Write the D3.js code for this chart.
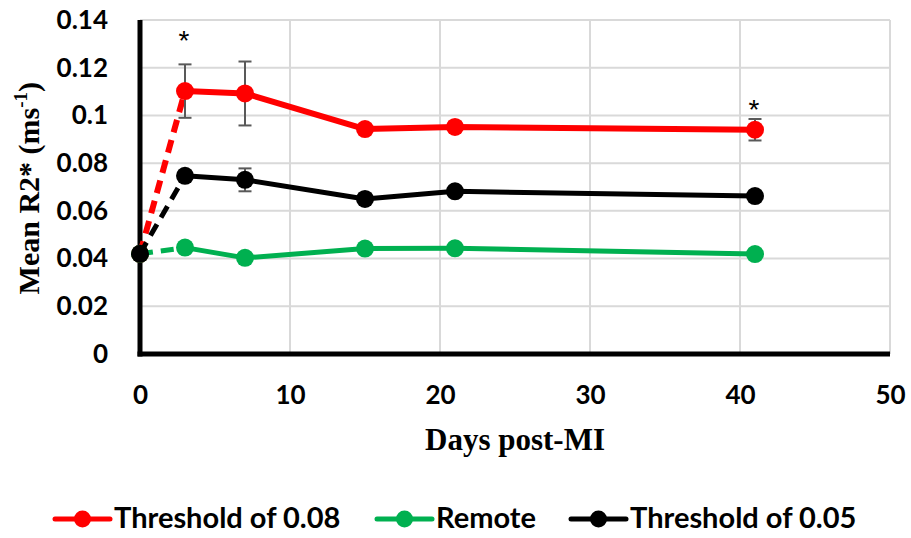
<!DOCTYPE html>
<html>
<head>
<meta charset="utf-8">
<script src="https://cdn.jsdelivr.net/npm/d3@7/dist/d3.min.js"></script>
<style>
  html, body { margin: 0; padding: 0; background: #fff; }
  svg { display: block; }
</style>
</head>
<body>
<svg id="chart" width="911" height="538"></svg>
<script>
// Days after myocardial infarction at which R2* was measured
const days = [0, 3, 7, 15, 21, 41];

// Mean R2* (ms^-1) per group
const threshold008 = [0.042, 0.1102, 0.1092, 0.0943, 0.0952, 0.0940];
const remote       = [0.042, 0.0446, 0.0403, 0.0442, 0.0443, 0.0419];
const threshold005 = [0.042, 0.0747, 0.0730, 0.0650, 0.0682, 0.0662];

// Standard error (ms^-1); null where no bar is drawn
const threshold008Err = [null, 0.0112, 0.0134, null, 0.0020, 0.0045];
const remoteErr       = [null, null, null, null, null, null];
const threshold005Err = [null, null, 0.0048, null, null, null];

// Days flagged as significant, and the level at which each asterisk sits
const starDays = [3, 41];
const starLevels = [0.1338, 0.1048];

const xTicks = [0, 10, 20, 30, 40, 50];
const yTicks = [0, 0.02, 0.04, 0.06, 0.08, 0.1, 0.12, 0.14];

const seriesNames = ["Threshold of 0.08", "Remote", "Threshold of 0.05"];
const seriesColors = ["#ff0000", "#00b050", "#000000"];

const series = [
  { name: seriesNames[0], color: seriesColors[0], values: threshold008, err: threshold008Err, width: 6 },
  { name: seriesNames[1], color: seriesColors[1], values: remote, err: remoteErr, width: 5 },
  { name: seriesNames[2], color: seriesColors[2], values: threshold005, err: threshold005Err, width: 5 }
];

const svg = d3.select("#chart");

const x = d3.scaleLinear().domain([0, 50]).range([140, 890]);
const y = d3.scaleLinear().domain([0, 0.14]).range([354, 20]);

const sans = "Lato, 'Open Sans', sans-serif";
const serif = "'Liberation Serif', 'Times New Roman', serif";

// Gridlines
const grid = svg.append("g");
grid.selectAll("line.h").data(yTicks.filter(d => d > 0)).join("line")
  .attr("x1", x(0)).attr("x2", x(50))
  .attr("y1", d => y(d)).attr("y2", d => y(d))
  .attr("stroke", "#d9d9d9").attr("stroke-width", 2);
grid.selectAll("line.v").data(xTicks.filter(d => d > 0)).join("line")
  .attr("x1", d => x(d)).attr("x2", d => x(d))
  .attr("y1", y(0.14)).attr("y2", y(0))
  .attr("stroke", "#d9d9d9").attr("stroke-width", 2);

// Axes (ticks drawn as labels only)
const yAxis = d3.axisLeft(y).tickValues(yTicks).tickSize(0).tickPadding(32)
  .tickFormat(d => d === 0 ? "0" : String(+d.toFixed(2)));
const gy = svg.append("g").attr("transform", `translate(${x(0)},0)`).call(yAxis);
gy.select(".domain").remove();
gy.selectAll("text")
  .attr("font-family", sans).attr("font-weight", "bold")
  .attr("font-size", 26).attr("fill", "#000");

const xAxis = d3.axisBottom(x).tickValues(xTicks).tickSize(0).tickPadding(32);
const gx = svg.append("g").attr("transform", `translate(0,${y(0)})`).call(xAxis);
gx.select(".domain").remove();
gx.selectAll("text")
  .attr("font-family", sans).attr("font-weight", "bold")
  .attr("font-size", 26).attr("fill", "#000");

// Axis lines
svg.append("line")
  .attr("x1", x(0)).attr("x2", x(0)).attr("y1", y(0.14)).attr("y2", y(0) + 2.5)
  .attr("stroke", "#000").attr("stroke-width", 5);
svg.append("line")
  .attr("x1", x(0) - 2.5).attr("x2", x(50)).attr("y1", y(0)).attr("y2", y(0))
  .attr("stroke", "#000").attr("stroke-width", 5);

// Axis titles
const yTitle = svg.append("text")
  .attr("transform", `translate(39,${y(0.0695)}) rotate(-90)`)
  .attr("text-anchor", "middle")
  .attr("font-family", serif).attr("font-weight", "bold").attr("font-size", 30)
  .attr("fill", "#000");
yTitle.append("tspan").text("Mean R2* (ms");
yTitle.append("tspan").attr("font-size", 19).attr("dy", -12).text("-1");
yTitle.append("tspan").attr("dy", 12).text(")");

svg.append("text")
  .attr("x", (x(0) + x(50)) / 2).attr("y", 450)
  .attr("text-anchor", "middle")
  .attr("font-family", serif).attr("font-weight", "bold").attr("font-size", 31)
  .attr("fill", "#000")
  .text("Days post-MI");

// Series lines: dashed for the first interval, solid afterwards
const line = d3.line().x(d => x(d[0])).y(d => y(d[1]));
const plot = svg.append("g");

series.forEach(s => {
  const pts = days.map((d, i) => [d, s.values[i]]);
  const g = plot.append("g");
  g.append("path")
    .attr("d", line(pts.slice(0, 2)))
    .attr("fill", "none").attr("stroke", s.color).attr("stroke-width", s.width)
    .attr("stroke-dasharray", "13,8");
  g.append("path")
    .attr("d", line(pts.slice(1)))
    .attr("fill", "none").attr("stroke", s.color).attr("stroke-width", s.width)
    .attr("stroke-linejoin", "round");

  // Error bars
  days.forEach((d, i) => {
    const e = s.err[i];
    if (e == null) return;
    const cx = x(d), top = y(s.values[i] + e), bot = y(s.values[i] - e);
    g.append("line").attr("x1", cx).attr("x2", cx).attr("y1", top).attr("y2", bot)
      .attr("stroke", "#595959").attr("stroke-width", 2);
    [top, bot].forEach(yy => g.append("line")
      .attr("x1", cx - 6.5).attr("x2", cx + 6.5).attr("y1", yy).attr("y2", yy)
      .attr("stroke", "#595959").attr("stroke-width", 2));
  });

  g.selectAll("circle").data(pts).join("circle")
    .attr("cx", d => x(d[0])).attr("cy", d => y(d[1])).attr("r", 9)
    .attr("fill", s.color);
});

// Significance asterisks
svg.selectAll("text.star").data(starDays).join("text")
  .attr("class", "star")
  .attr("x", d => x(d) - 1)
  .attr("y", (d, i) => y(starLevels[i]) + 15)
  .attr("text-anchor", "middle")
  .attr("font-family", "'Liberation Sans', Arial, sans-serif")
  .attr("font-size", 28).attr("fill", "#000")
  .text("*");

// Legend
const legendX = [55, 377, 571];
const legend = svg.append("g");
series.forEach((s, i) => {
  const lx = legendX[i], ly = 519;
  legend.append("line").attr("x1", lx).attr("x2", lx + 55).attr("y1", ly).attr("y2", ly)
    .attr("stroke", s.color).attr("stroke-width", 5).attr("stroke-linecap", "round");
  legend.append("circle").attr("cx", lx + 27.5).attr("cy", ly).attr("r", 8.5).attr("fill", s.color);
  legend.append("text").attr("x", lx + 59).attr("y", 528)
    .attr("font-family", sans).attr("font-weight", "bold").attr("font-size", 29)
    .attr("fill", "#000").text(s.name);
});
</script>
</body>
</html>
